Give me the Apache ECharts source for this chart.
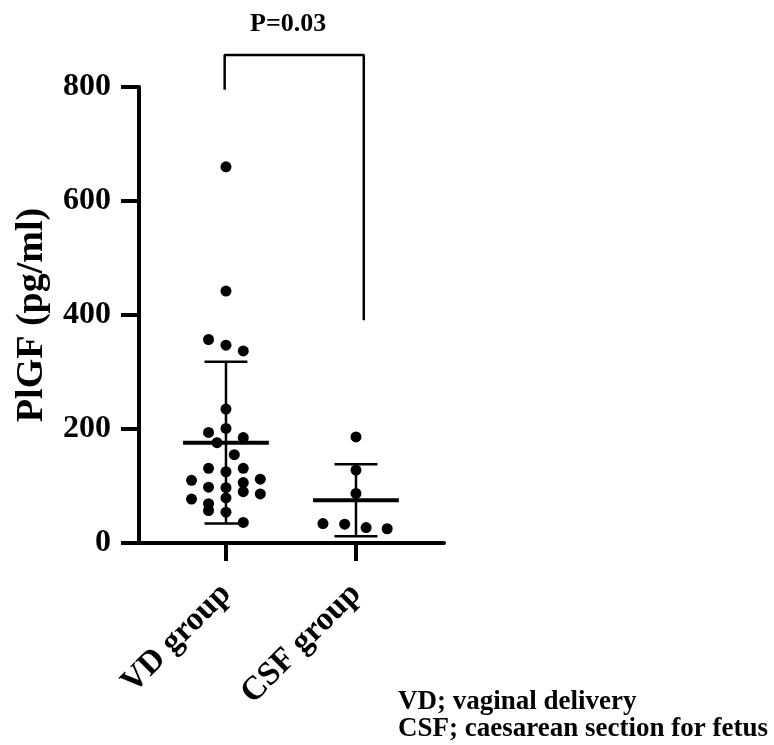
<!DOCTYPE html>
<html>
<head>
<meta charset="UTF-8">
<title>PlGF</title>
<script src="https://cdn.jsdelivr.net/npm/echarts@6/dist/echarts.min.js"></script>
<style>
    html, body { margin: 0; padding: 0; background: #fff; }
    #main { width: 774px; height: 745px; }
</style>
</head>
<body>
<div id="main"></div>
<script type="text/javascript">
    // groups on the x axis (1 = VD, 2 = CSF)
    var groups = ['VD group', 'CSF group'];
    // VD group: jitter offset (fraction of a group) and PlGF value
    var vdJitter = [0, 0, -0.134, 0, 0.133, 0, -0.134, 0, 0.133, -0.069, 0.064, -0.134, 0.133, 0,
        -0.265, 0.264, 0.133, -0.134, 0, 0.133, 0.264, 0, -0.265, -0.134, -0.134, 0, 0.133];
    var vdValues = [660, 442, 357, 347, 337, 235, 194, 201, 185, 176, 155, 131, 131, 125,
        110, 112, 106, 98, 97, 90, 86, 79, 77, 69, 57, 54, 36];
    // CSF group
    var csfJitter = [0, 0, 0, -0.254, -0.087, 0.078, 0.24];
    var csfValues = [186, 128, 87, 34, 33, 27, 25];
    // mean and SD of each group
    var means = [176, 75];
    var sds = [142, 63];
    var yTicks = [0, 200, 400, 600, 800];
    // significance bracket
    var bracket = [[0.99, 795], [0.99, 856], [2.06, 856], [2.06, 391]];
    var pText = 'P=0.03';
    var notes = ['VD; vaginal delivery', 'CSF; caesarean section for fetus'];

    var serif = '"Liberation Serif", "Times New Roman", serif';

    function pts(base, jit, vals) {
        var out = [];
        for (var i = 0; i < vals.length; i++) {
            out.push([base + jit[i], vals[i]]);
        }
        return out;
    }

    var errData = [];
    for (var g = 0; g < groups.length; g++) {
        errData.push([g + 1, means[g], sds[g]]);
    }

    var myChart = echarts.init(document.getElementById('main'));

    var option = {
        animation: false,
        grid: { left: 139, top: 87, right: 330, bottom: 202 },
        xAxis: {
            type: 'value',
            min: 0.331,
            max: 2.677,
            splitLine: { show: false },
            axisLine: { show: true, onZero: false, lineStyle: { color: '#000', width: 4 } },
            axisTick: { show: true, customValues: [1, 2], length: 18, lineStyle: { color: '#000', width: 4 } },
            axisLabel: {
                customValues: [1, 2],
                rotate: 45,
                margin: 46,
                color: '#000',
                fontFamily: serif,
                fontWeight: 'bold',
                fontSize: 33,
                formatter: function (v) { return groups[Math.round(v) - 1]; }
            }
        },
        yAxis: {
            type: 'value',
            min: 0,
            max: 800,
            interval: 200,
            name: 'PlGF (pg/ml)',
            nameLocation: 'middle',
            nameGap: 88,
            nameTextStyle: { color: '#000', fontFamily: serif, fontWeight: 'bold', fontSize: 38 },
            splitLine: { show: false },
            axisLine: { show: true, lineStyle: { color: '#000', width: 4 } },
            axisTick: { show: true, length: 18, lineStyle: { color: '#000', width: 4 } },
            axisLabel: {
                margin: 28,
                color: '#000',
                fontFamily: serif,
                fontWeight: 'bold',
                fontSize: 32,
                customValues: yTicks
            }
        },
        series: [
            {
                name: 'VD',
                type: 'scatter',
                symbol: 'circle',
                symbolSize: 11,
                itemStyle: { color: '#000', opacity: 1 },
                data: pts(1, vdJitter, vdValues)
            },
            {
                name: 'CSF',
                type: 'scatter',
                symbol: 'circle',
                symbolSize: 11,
                itemStyle: { color: '#000', opacity: 1 },
                data: pts(2, csfJitter, csfValues)
            },
            {
                name: 'mean_sd',
                type: 'custom',
                data: errData,
                renderItem: function (params, api) {
                    var x = api.value(0), m = api.value(1), s = api.value(2);
                    var mL = api.coord([x - 0.33, m]), mR = api.coord([x + 0.33, m]);
                    var top = api.coord([x, m + s]), bot = api.coord([x, m - s]);
                    var cL = api.coord([x - 0.165, m + s])[0], cR = api.coord([x + 0.165, m + s])[0];
                    var thin = { stroke: '#000', lineWidth: 2.5 };
                    return {
                        type: 'group',
                        children: [
                            { type: 'line', shape: { x1: top[0], y1: top[1], x2: bot[0], y2: bot[1] }, style: thin },
                            { type: 'line', shape: { x1: cL, y1: top[1], x2: cR, y2: top[1] }, style: thin },
                            { type: 'line', shape: { x1: cL, y1: bot[1], x2: cR, y2: bot[1] }, style: thin },
                            { type: 'line', shape: { x1: mL[0], y1: mL[1], x2: mR[0], y2: mR[1] }, style: { stroke: '#000', lineWidth: 4 } }
                        ]
                    };
                },
                z: 1
            },
            {
                name: 'bracket',
                type: 'line',
                symbol: 'none',
                clip: false,
                lineStyle: { color: '#000', width: 2.5 },
                data: bracket
            }
        ],
        graphic: [
            {
                type: 'text',
                left: 250,
                top: 11,
                style: { text: pText, fill: '#000', font: 'bold 26px ' + serif }
            },
            {
                type: 'text',
                left: 398,
                top: 689,
                style: { text: notes.join('\n'), fill: '#000', font: 'bold 27px ' + serif, lineHeight: 27 }
            }
        ]
    };
    myChart.setOption(option);
</script>
</body>
</html>
